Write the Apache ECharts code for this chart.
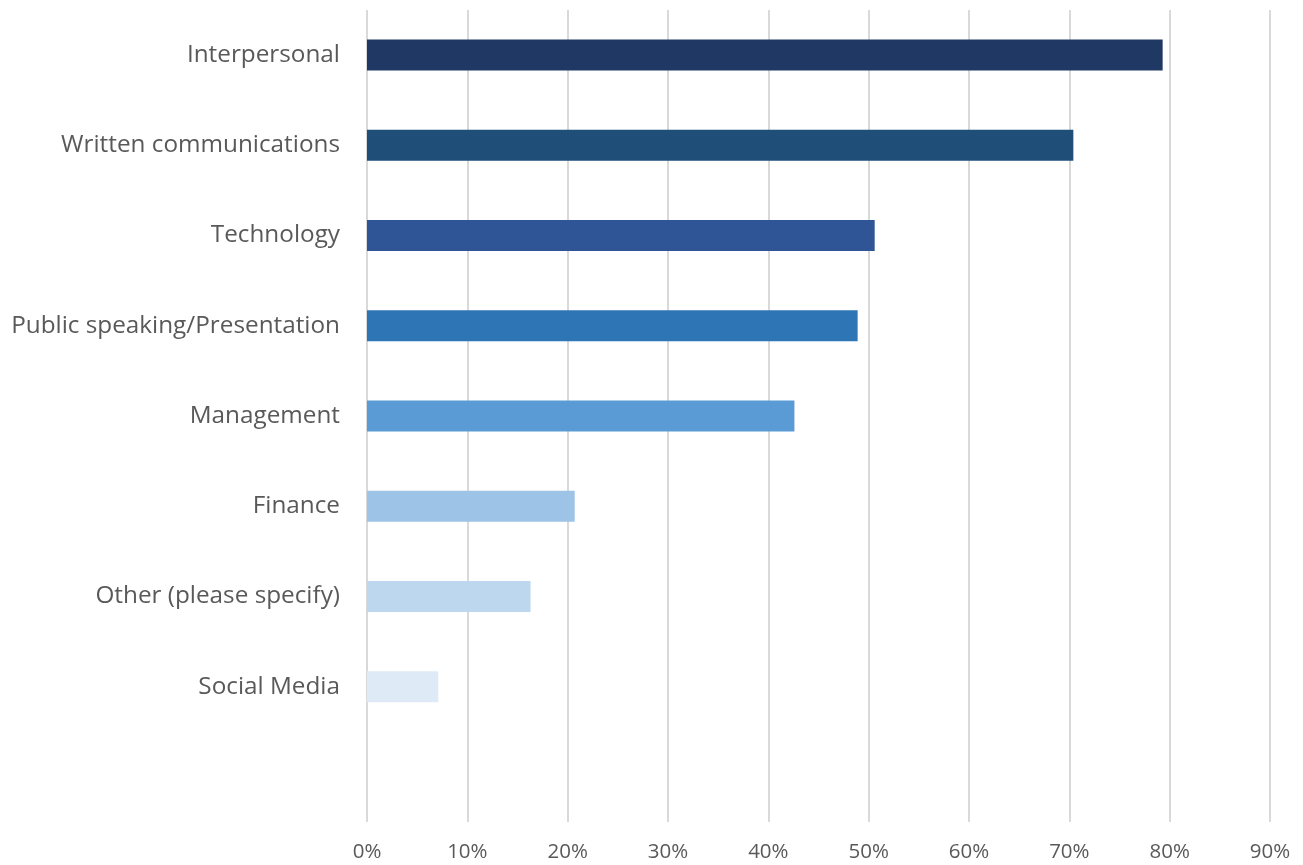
<!DOCTYPE html>
<html>
<head>
<meta charset="utf-8">
<script src="https://cdn.jsdelivr.net/npm/echarts@6/dist/echarts.min.js"></script>
<style>html,body{margin:0;padding:0;background:#fff;}#c{width:1303px;height:865px;}</style>
</head>
<body>
<div id="c"></div>
<script>
const categories = ["Interpersonal", "Written communications", "Technology", "Public speaking/Presentation", "Management", "Finance", "Other (please specify)", "Social Media", ""];
const values = [79.3, 70.4, 50.6, 48.9, 42.6, 20.7, 16.3, 7.1, null];
const barColors = ["#203864", "#1F4E79", "#2F5597", "#2E75B6", "#5B9BD5", "#9DC3E6", "#BDD7EE", "#DEEBF7", "#ffffff"];
const xTicks = [0, 10, 20, 30, 40, 50, 60, 70, 80, 90];

const chart = echarts.init(document.getElementById('c'), null, {renderer: 'canvas'});
chart.setOption({
  animation: false,
  backgroundColor: '#ffffff',
  grid: {left: 367, right: 33, top: 10, bottom: 43, containLabel: false},
  xAxis: {
    type: 'value', min: xTicks[0], max: xTicks[xTicks.length - 1], interval: 10,
    axisLine: {show: false}, axisTick: {show: false},
    axisLabel: {formatter: v => v + '%', color: '#595959', fontFamily: 'Open Sans', fontSize: 20.5, margin: 20},
    splitLine: {show: true, lineStyle: {color: '#d9d9d9', width: 2}}
  },
  yAxis: {
    type: 'category', data: categories, inverse: true,
    axisLine: {show: false}, axisTick: {show: false},
    axisLabel: {color: '#595959', fontFamily: 'Open Sans', fontSize: 24.3, margin: 27}
  },
  series: [{
    type: 'bar', barWidth: 31,
    data: values.map((v, i) => ({value: v === null ? '-' : v, itemStyle: {color: barColors[i]}}))
  }]
});
</script>
</body>
</html>
